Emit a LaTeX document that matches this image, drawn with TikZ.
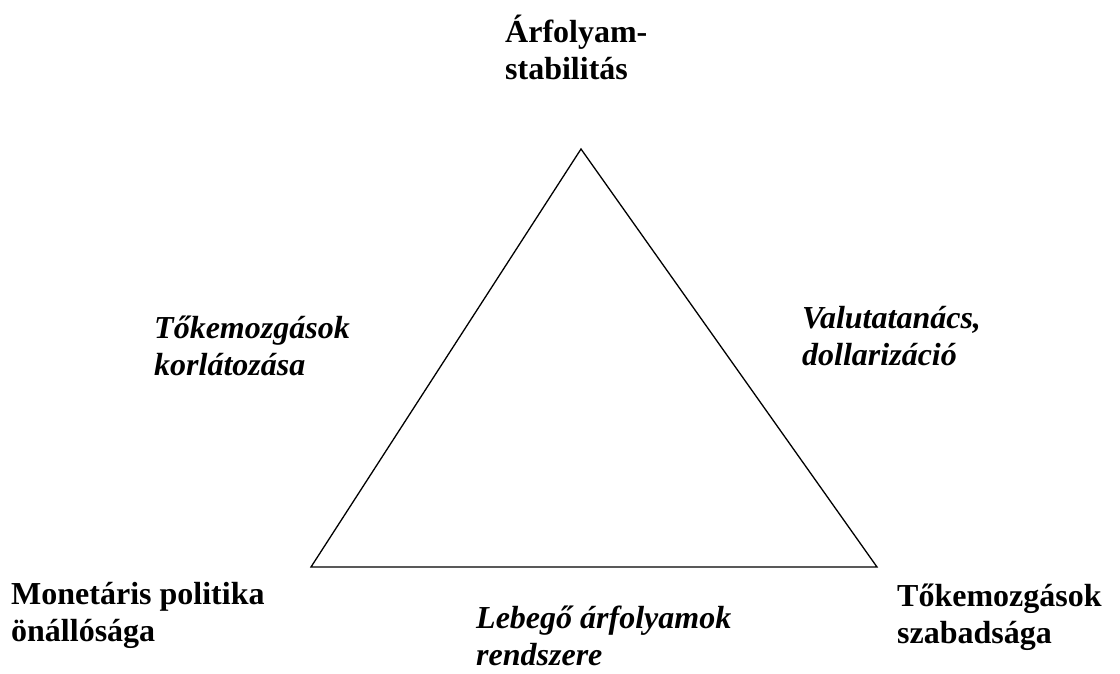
\documentclass[tikz,border=0pt]{standalone}
\usepackage{fontspec}
\setmainfont{Liberation Serif}
\begin{document}
\begin{tikzpicture}[x=1pt,y=-1pt,
  lbl/.style={font=\fontsize{32}{37}\selectfont\bfseries, align=left, inner sep=0pt, anchor=base west},
  ilbl/.style={lbl, font=\fontsize{32}{37}\selectfont\bfseries\itshape}]
\useasboundingbox (0,0) rectangle (1120,673);
\coordinate (T) at (581,149);
\coordinate (L) at (311,567);
\coordinate (R) at (877,567);
\draw[line width=1.3pt] (T) -- (L) -- (R) -- cycle;
% base anchor = baseline of the last line
\node[lbl] (top) at (505,79) {Árfolyam-\\stabilitás};
\node[ilbl] (tl) at (154,375) {Tőkemozgások\\korlátozása};
\node[ilbl] (tr) at (802,365) {Valutatanács,\\dollarizáció};
\node[lbl] (bl) at (11,641) {Monetáris politika\\önállósága};
\node[ilbl] (bm) at (476,665) {Lebegő árfolyamok\\rendszere};
\node[lbl] (br) at (897,643) {Tőkemozgások\\szabadsága};
\end{tikzpicture}
\end{document}
